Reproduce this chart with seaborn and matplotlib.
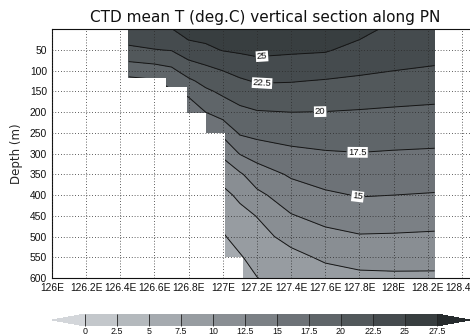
import numpy as np
import matplotlib
matplotlib.use("Agg")
import matplotlib.pyplot as plt
from matplotlib.colors import ListedColormap, BoundaryNorm
import seaborn as sns

# ---- data -------------------------------------------------------------
# station longitudes (deg E) and standard depths (m)
lons = [126.45, 126.6, 126.7, 126.8, 126.9, 127.0, 127.1, 127.2,
        127.4, 127.6, 127.8, 128.0, 128.24]
depths = [0, 25, 50, 75, 100, 125, 150, 200, 250, 300, 350, 400,
          450, 500, 550, 600]

# mean temperature profile at each station (deg C, one value per depth)
temperature_profiles = [
    [24.3, 23.2, 21.9, 20.2, 18.5, 16.8, 15.6, 13.8, 12.5, 11.5, 10.8, 10.2, 9.7, 9.2, 8.8, 8.4],
    [24.6, 23.5, 22.4, 20.6, 18.9, 17.2, 15.9, 14.0, 12.6, 11.6, 10.9, 10.3, 9.8, 9.3, 8.9, 8.5],
    [24.95, 23.8, 22.6, 20.9, 19.5, 18.4, 17.3, 15.5, 14.0, 12.8, 11.8, 11.0, 10.3, 9.7, 9.2, 8.8],
    [25.6, 25.05, 23.8, 22.45, 21.0, 19.55, 18.0, 16.2, 14.6, 13.2, 12.0, 11.0, 10.1, 9.3, 8.6, 8.0],
    [25.8, 25.3, 24.5, 23.1, 21.8, 20.7, 19.6, 17.5, 15.7, 14.0, 12.5, 11.3, 10.2, 9.3, 8.5, 7.9],
    [26.0, 25.5, 25.1, 23.86, 22.5, 21.46, 20.42, 18.61, 15.54, 12.95, 10.89, 9.35, 8.19, 7.3, 6.8, 6.3],
    [26.1, 25.6, 25.3, 24.4, 23.24, 22.15, 21.33, 19.36, 17.77, 15.11, 12.16, 10.47, 9.29, 8.29, 7.3, 6.8],
    [26.2, 25.9, 25.5, 24.72, 23.71, 22.7, 21.73, 19.84, 18.21, 15.98, 13.81, 11.94, 10.07, 9.16, 8.29, 7.45],
    [26.3, 25.8, 25.3, 24.57, 23.59, 22.6, 21.74, 20.0, 18.49, 16.94, 15.3, 13.81, 12.35, 10.8, 9.3, 8.6],
    [26.2, 25.7, 25.2, 24.31, 23.3, 22.34, 21.54, 19.95, 18.62, 17.29, 15.99, 14.66, 13.26, 11.84, 10.4, 8.97],
    [25.5, 25.0, 24.28, 23.56, 22.84, 22.09, 21.31, 19.81, 18.62, 17.43, 16.27, 15.12, 13.74, 12.33, 10.89, 9.45],
    [24.6, 24.05, 23.55, 23.0, 22.5, 21.75, 21.05, 19.65, 18.5, 17.3, 16.15, 15.0, 13.64, 12.28, 10.92, 9.55],
    [24.3, 23.8, 23.3, 22.8, 22.2, 21.5, 20.8, 19.5, 18.35, 17.2, 16.05, 14.85, 13.5, 12.15, 10.86, 9.55],
]

# sea-floor depth below each station cell (step edges in deg E)
bottom_edges = [126.45, 126.67, 126.79, 126.90, 127.01, 127.12, 128.24]
bottom_depths = [118, 138, 203, 249, 550, 600]

# contour levels and the ones carrying a label
levels = [0, 2.5, 5, 7.5, 10, 12.5, 15, 17.5, 20, 22.5, 25, 27.5]
labelled_levels = [15, 17.5, 20, 22.5, 25]
plain_levels = [v for v in levels if v not in labelled_levels]

x_ticks = [126.0, 126.2, 126.4, 126.6, 126.8, 127.0, 127.2, 127.4,
           127.6, 127.8, 128.0, 128.2, 128.4]
x_ticklabels = ["126E", "126.2E", "126.4E", "126.6E", "126.8E", "127E",
                "127.2E", "127.4E", "127.6E", "127.8E", "128E", "128.2E",
                "128.4E"]
y_ticks = [50, 100, 150, 200, 250, 300, 350, 400, 450, 500, 550, 600]
cbar_ticklabels = ["0", "2.5", "5", "7.5", "10", "12.5", "15", "17.5",
                   "20", "22.5", "25", "27.5"]

title = "CTD mean T (deg.C) vertical section along PN"

# ---- style ------------------------------------------------------------
sns.set_theme(style="white")
plt.rcParams["font.family"] = ["Liberation Sans", "DejaVu Sans"]
wide_font = ["DejaVu Sans"]

band_colors = ["#c3c7cb", "#b4b9bd", "#a5aaaf", "#979ca1", "#898e93",
               "#7b8085", "#6d7277", "#5f6569", "#52585b", "#454b4e",
               "#383e40"]
cmap = ListedColormap(band_colors)
cmap.set_under("#d3d6da")
cmap.set_over("#262b2d")
norm = BoundaryNorm(levels, cmap.N)

W, H = 470, 335
fig = plt.figure(figsize=(W / 100, H / 100), dpi=100)
fig.patch.set_facecolor("white")

ax = fig.add_axes([52 / W, 57 / H, 427 / W, 248.7 / H])
ax.set_facecolor("white")

lon_grid, depth_grid = np.meshgrid(lons, depths)
temp = np.array(temperature_profiles).T

cf = ax.contourf(lon_grid, depth_grid, temp, levels=levels, cmap=cmap,
                 norm=norm, extend="both", zorder=1)
line_style = dict(colors="#151515", linewidths=0.7, zorder=2)
ax.contour(lon_grid, depth_grid, temp, levels=plain_levels, **line_style)
cs_lab = ax.contour(lon_grid, depth_grid, temp, levels=labelled_levels,
                    **line_style)

ax.set_xlim(126.0, 128.5)
ax.set_ylim(600, 0)

# blank out the sea floor (the first step reaches back to the axis edge)
floor_x = [ax.get_xlim()[0]] + bottom_edges[1:]
floor_top = bottom_depths + [bottom_depths[-1]]
ax.fill_between(floor_x, floor_top, 650, step="post", color="white",
                linewidth=0, zorder=2.2)

label_spots = [(127.23, 68), (127.23, 132), (127.57, 200),
               (127.79, 294), (127.79, 402)]
texts = ax.clabel(cs_lab, manual=label_spots, inline=True,
                  inline_spacing=2, fontsize=6.8,
                  fmt=lambda v: f"{v:g}", colors="#111111")
for t in texts:
    t.set_bbox(dict(facecolor="white", edgecolor="none", pad=0.6))
    t.set_zorder(4)

ax.set_xticks(x_ticks)
ax.set_xticklabels(x_ticklabels)
ax.set_yticks(y_ticks)
ax.set_yticklabels([str(v) for v in y_ticks])
ax.set_ylabel("Depth (m)", fontsize=8.5, family=wide_font)
ax.yaxis.set_label_coords(-0.068, 0.5)

ax.set_axisbelow(False)
ax.grid(True, color="#2a2a2a", linestyle=(0, (1, 2.4)), linewidth=0.6)
ax.tick_params(axis="both", direction="inout", length=4, width=0.6,
               labelsize=7.4, pad=1.5, colors="#111111")
for side in ("left", "bottom", "top", "right"):
    ax.spines[side].set_color("#111111")
    ax.spines[side].set_linewidth(0.8)

fig.text(265 / W, 1 - 17.5 / H, title, ha="center", va="center",
         fontsize=11, color="#111111", family=wide_font)

# colour key with arrow ends
cax = fig.add_axes([52 / W, 9 / H, 418 / W, 12 / H])
cb = fig.colorbar(cf, cax=cax, orientation="horizontal", extend="both",
                  extendfrac=0.094, ticks=levels, drawedges=True)
cb.outline.set_visible(False)
cb.dividers.set_color("#222222")
cb.dividers.set_linewidth(0.6)
cb.set_ticklabels(cbar_ticklabels)
cax.tick_params(length=0, labelsize=6.4, pad=0.8, colors="#111111")

fig.savefig("out.png", dpi=100, facecolor="white")
